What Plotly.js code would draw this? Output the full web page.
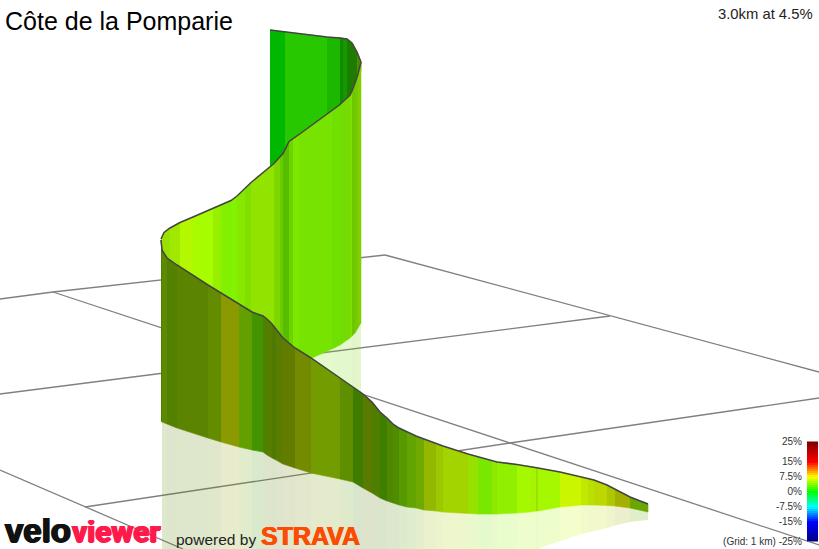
<!DOCTYPE html>
<html><head><meta charset="utf-8">
<script src="https://cdn.plot.ly/plotly-3.0.1.min.js"></script>
<style>html,body{margin:0;padding:0;background:#fff;overflow:hidden}#c{width:819px;height:549px}</style>
</head><body><div id="c"></div>
<script>
const titleText = "Côte de la Pomparie";
const summaryText = "3.0km at 4.5%";

// Grid lines on the ground plane
const gridX = [[0,53,385],[385,610,819],[53,510,819],[0,610],[85,510,819],[0,85,183]];
const gridY = [[299,292,255],[255,316,372],[292,443,545],[394,316],[507,443,398],[470,507,549]];

// Back stretch of the ribbon
const backX = [270,285,327,340,343,347,352,357,361];
const backTop = [30,32,37,38,38.5,39,43,52,62];
const backBottom = [166,155,120,110,105,102,95,85,70];
const backColors = ["#00b800","#28c800","#1cb800","#108c00","#189800","#1a7e00","#207c00","#4c8c00"];

// Middle stretch
const midX = [161,164,170,180,193,213,221,231,237,245,251,274,280,283,289,293,299,312,332,340,350,352,355,358,361];
const midTop = [239,232.5,228,222.5,217,208,204.5,200.5,196,188,182.5,163.5,157,153.5,141.5,139,134.5,125,111,104.5,95,91,83,74,62];
const midBottom = [380,380,380,380,380,380,380,380,380,380,380,380,380,380,380,380,380,358,349,345,338,336,333,328,323];
const midColors = ["#9ae000","#9ae000","#a0e800","#b4f800","#a8fc00","#98f000","#82f000","#80f400","#88e800","#80e000","#90e400","#7ed800","#68cc00","#58bc00","#6ed400","#7ce800","#76e400","#76e400","#70e000","#74dc00","#80e000","#6cc800","#78c800","#80d000"];
const midShadowFrom = 17;
const midShadowBottom = [400,400,400,400,400,400,400,400];

// Front stretch
const frontX = [161,162,167,177,208,221,239,252,263,267,272,276,283,295,311,340,353,363,372,380,387,393,399,407,416,424,436,443,468,478,492,497,517,530,536,538,560,581,588,594,607,615,630,648];
const frontTop = [240,250,258,265,285,293,304,312,316,319,324,329,338,348,358,378,387,394,402,412,418,424,428,432,436,439,443.5,446,454,457,461,462,464.5,466.5,467.5,468,472,477,478.5,480,485,489,497,504];
const frontBottom = [421,422,424,428,438,442,447,450,452,455,458,460,464,468,473,479,482,488,493,498,501,503,505,507,508,510,511,512,513.5,514,514,514,513,512,511,511,507,505,505,505,505.5,506,508,512];
const frontShadowBottom = [549,549,549,549,549,549,549,549,549,549,549,549,549,549,549,549,549,549,549,549,549,549,549,549,549,549,549,549,549,549,549,549,549,549,549,549,541,534,532.5,531,528,525.5,522,520];
const frontColors = ["#4f7f00","#5a8a00","#548000","#5b8500","#648c00","#8a9a00","#62a000","#429400","#4f8000","#587e00","#4f7a00","#5a7c00","#627c00","#748a00","#729c00","#5f8f00","#3f7d00","#5a7a00","#4f7e00","#3f7f00","#508700","#4f8c00","#579a00","#62a400","#70aa00","#94b800","#9cc800","#a4d400","#98e000","#78e800","#8ee800","#90f000","#a4f800","#a8f400","#98e400","#a6f800","#caf600","#c0e800","#b8e000","#bcd800","#aec800","#a4b000","#68a800"];

// Gradient legend
const gradeLevels = [-25,-24,-23,-22,-21,-20,-19,-18,-17,-16,-15,-14,-13,-12,-11,-10,-9,-8,-7,-6,-5,-4,-3,-2,-1,0,1,2,3,4,5,6,7,8,9,10,11,12,13,14,15,16,17,18,19,20,21,22,23,24,25];
const gradeTicks = [25,15,7.5,0,-7.5,-15,-25];
const gradeLabels = ["25%","15%","7.5%","0%","-7.5%","-15%","(Grid: 1 km) -25%"];
const gradeScale = [[0,"#000080"],[0.2,"#0000ff"],[0.35,"#00ffff"],[0.5,"#00ff00"],[0.65,"#ffff00"],[0.8,"#ff0000"],[1,"#800000"]];

function rgba(hex,a){
  const n=parseInt(hex.slice(1),16);
  return "rgba("+(n>>16)+","+((n>>8)&255)+","+(n&255)+","+a+")";
}
const traces=[];
function base(){return {type:"scatter",hoverinfo:"skip",showlegend:false,xaxis:"x",yaxis:"y"};}
gridX.forEach((xs,i)=>traces.push(Object.assign(base(),{mode:"lines",x:xs,y:gridY[i],line:{color:"#808080",width:1.3}})));
function bands(xs,top,bottom,colors,alpha){
  colors.forEach((c,i)=>{
    const fill = alpha<1 ? rgba(c,alpha) : c;
    traces.push(Object.assign(base(),{
      mode:"lines",fill:"toself",fillcolor:fill,
      x:[xs[i],xs[i+1],xs[i+1],xs[i]],
      y:[top[i],top[i+1],bottom[i+1],bottom[i]],
      line:{width:alpha<1?0:0.6,color:alpha<1?"rgba(0,0,0,0)":c}
    }));
  });
}
function outline(xs,ys){traces.push(Object.assign(base(),{mode:"lines",x:xs,y:ys,line:{color:"#444444",width:1.5,shape:"linear"}}));}

bands(frontX.slice(1),frontBottom.slice(1),frontShadowBottom.slice(1),frontColors.slice(1),0.2);
bands(midX.slice(midShadowFrom),midBottom.slice(midShadowFrom),midShadowBottom,midColors.slice(midShadowFrom),0.2);
bands(backX,backTop,backBottom,backColors,1);
outline(backX,backTop);
bands(midX,midTop,midBottom,midColors,1);
outline(midX,midTop);
bands(frontX,frontTop,frontBottom,frontColors,1);
outline(frontX,frontTop);

traces.push({type:"heatmap",xaxis:"x2",yaxis:"y2",x:[0],y:gradeLevels,z:gradeLevels.map(v=>[v]),
  zmin:-25,zmax:25,colorscale:gradeScale,showscale:false,hoverinfo:"skip",zsmooth:false});

const W=819,H=549;
const layout={
  width:W,height:H,margin:{l:0,r:0,t:0,b:0},paper_bgcolor:"#fff",plot_bgcolor:"#fff",showlegend:false,
  title:{text:titleText,x:5/W,xanchor:"left",y:1-21/H,yanchor:"middle",yref:"container",xref:"container",
    font:{family:"Liberation Sans",size:25,color:"#000"},pad:{t:0,b:0,l:0,r:0}},
  xaxis:{range:[0,W],visible:false,fixedrange:true,domain:[0,1]},
  yaxis:{range:[H,0],visible:false,fixedrange:true,domain:[0,1]},
  xaxis2:{domain:[807/W,818/W],range:[-0.5,0.5],visible:false,fixedrange:true,anchor:"y2"},
  yaxis2:{domain:[(H-541.5)/H,(H-441.5)/H],range:[-25,25],anchor:"x2",side:"left",fixedrange:true,
    tickmode:"array",tickvals:gradeTicks,ticktext:gradeLabels,ticks:"",showgrid:false,zeroline:false,showline:false,
    ticklabelstandoff:4,
    tickfont:{family:"Liberation Sans",size:10,color:"#333"}},
  annotations:[
    {text:summaryText,xref:"x",yref:"y",x:815,y:14,xanchor:"right",yanchor:"middle",showarrow:false,
      font:{family:"Liberation Sans",size:14.8,color:"#222"}},
    {text:"<b>velo</b>",xref:"x",yref:"y",x:3,y:530,xanchor:"left",yanchor:"middle",showarrow:false,
      font:{family:"Liberation Sans",size:33,color:"#111",shadow:"1px 0 0 #111, -1px 0 0 #111, 0 1px 0 #111"}},
    {text:"<b>viewer</b>",xref:"x",yref:"y",x:70,y:531,xanchor:"left",yanchor:"middle",showarrow:false,
      font:{family:"Roboto",size:30,color:"#ff1a4b",shadow:"1px 0 0 #ff1a4b, -1px 0 0 #ff1a4b, 0 1px 0 #ff1a4b"}},
    {text:"powered by",xref:"x",yref:"y",x:174,y:539,xanchor:"left",yanchor:"middle",showarrow:false,
      font:{family:"Liberation Sans",size:15.5,color:"#222"}},
    {text:"<b>STRAVA</b>",xref:"x",yref:"y",x:259,y:535.5,xanchor:"left",yanchor:"middle",showarrow:false,
      font:{family:"Liberation Sans",size:25,color:"#fc4c02",shadow:"0.6px 0 0 #fc4c02, -0.6px 0 0 #fc4c02"}}
  ]
};
Plotly.newPlot("c",traces,layout,{displayModeBar:false,staticPlot:true});
</script></body></html>
